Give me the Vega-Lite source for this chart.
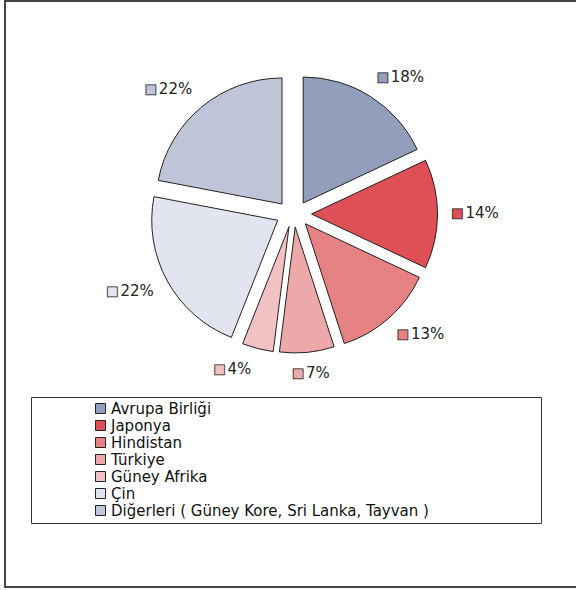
{
  "$schema": "https://vega.github.io/schema/vega-lite/v6.json",
  "width": 573,
  "height": 586,
  "autosize": {"type": "none"},
  "padding": {"left": 5, "top": 1, "right": 0, "bottom": 3},
  "background": "white",
  "config": {"view": {"stroke": null}, "font": "DejaVu Sans"},
  "data": {"values": [
    {"bolge": "Avrupa Birliği", "pay": 0.18, "sira": 1},
    {"bolge": "Japonya", "pay": 0.14, "sira": 2},
    {"bolge": "Hindistan", "pay": 0.13, "sira": 3},
    {"bolge": "Türkiye", "pay": 0.07, "sira": 4},
    {"bolge": "Güney Afrika", "pay": 0.04, "sira": 5},
    {"bolge": "Çin", "pay": 0.22, "sira": 6},
    {"bolge": "Diğerleri ( Güney Kore, Sri Lanka, Tayvan )", "pay": 0.22, "sira": 7}
  ]},
  "layer": [
    {
      "data": {"values": [{"cerceve": 1}]},
      "mark": {"type": "rect", "filled": false, "stroke": "#444", "strokeWidth": 2},
      "encoding": {
        "x": {"value": 0},
        "x2": {"value": "width"},
        "y": {"value": 0},
        "y2": {"value": "height"}
      }
    },
    {
      "encoding": {
        "theta": {"field": "pay", "type": "quantitative", "stack": true},
        "order": {"field": "sira", "type": "quantitative"},
        "color": {
          "field": "bolge",
          "type": "nominal",
          "scale": {
            "domain": ["Avrupa Birliği", "Japonya", "Hindistan", "Türkiye", "Güney Afrika", "Çin", "Diğerleri ( Güney Kore, Sri Lanka, Tayvan )"],
            "range": ["#939EBD", "#DE4F56", "#E68283", "#EDA8A9", "#F2C2C3", "#E2E5F0", "#BFC5D9"]
          },
          "legend": {
            "orient": "none",
            "legendX": 26,
            "legendY": 396,
            "direction": "vertical",
            "title": "\u00a0",
            "titleOrient": "right",
            "titlePadding": 108,
            "padding": 4,
            "strokeColor": "#333",
            "symbolType": "square",
            "symbolSize": 100,
            "symbolStrokeColor": "#222",
            "symbolStrokeWidth": 1,
            "symbolOffset": 58,
            "labelFontSize": 15,
            "labelFont": "DejaVu Sans",
            "labelColor": "#111",
            "labelOffset": 3,
            "rowPadding": 1,
            "labelLimit": 600
          }
        }
      },
      "layer": [
        {
          "mark": {
            "type": "arc",
            "radius": 126,
            "stroke": "#222",
            "strokeWidth": 1,
            "xOffset": {"expr": "2 + 18*sin(scale('theta', (datum.pay_start + datum.pay_end)/2))"},
            "yOffset": {"expr": "-80 - 13*cos(scale('theta', (datum.pay_start + datum.pay_end)/2))"}
          }
        },
        {
          "mark": {
            "type": "text",
            "text": "■",
            "font": "DejaVu Sans",
            "fontSize": 13,
            "radius": 161,
            "align": "center",
            "baseline": "middle",
            "stroke": "#222",
            "strokeWidth": 0.8,
            "dy": -81,
            "dx": {"expr": "(sin(scale('theta', (datum.pay_start + datum.pay_end)/2)) > 0 ? 19 : 24)*clamp(3*sin(scale('theta', (datum.pay_start + datum.pay_end)/2)), -1, 1) - 14"}
          }
        },
        {
          "mark": {
            "type": "text",
            "font": "DejaVu Sans",
            "fontSize": 15,
            "radius": 161,
            "align": "left",
            "baseline": "middle",
            "dy": -81,
            "dx": {"expr": "(sin(scale('theta', (datum.pay_start + datum.pay_end)/2)) > 0 ? 19 : 24)*clamp(3*sin(scale('theta', (datum.pay_start + datum.pay_end)/2)), -1, 1) - 6"}
          },
          "encoding": {
            "text": {"field": "pay", "type": "quantitative", "format": ".0%"},
            "color": {"value": "#222"}
          }
        }
      ]
    }
  ]
}
